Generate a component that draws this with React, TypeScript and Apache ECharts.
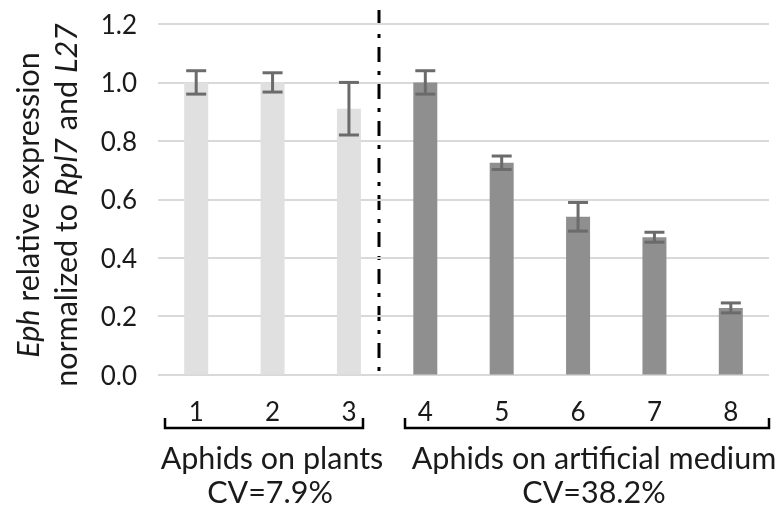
import React, { useEffect, useRef } from "react";
import * as echarts from "echarts";

const categories = ["1", "2", "3", "4", "5", "6", "7", "8"];
const means = [1.0, 1.0, 0.91, 1.0, 0.725, 0.54, 0.47, 0.228];
const errors = [0.04, 0.033, 0.09, 0.04, 0.023, 0.049, 0.017, 0.017];
const groupOf = [0, 0, 0, 1, 1, 1, 1, 1];
const groupColors = ["#e0e0e0", "#8f8f8f"];
const groupNames = ["Aphids on plants", "Aphids on artificial medium"];
const groupCVs = ["CV=7.9%", "CV=38.2%"];
const yTicks = [0, 0.2, 0.4, 0.6, 0.8, 1.0, 1.2];

const FONT = "Lato";
const TXT = "#1a1a1a";

export default function App() {
  const ref = useRef<HTMLDivElement>(null);
  useEffect(() => {
    if (!ref.current) return;
    const chart = echarts.init(ref.current, null, { renderer: "svg" });
    const barData = means.map((v, i) => ({
      value: v,
      itemStyle: { color: groupColors[groupOf[i]] },
    }));
    const errData = means.map((v, i) => [i, v - errors[i], v + errors[i]]);
    const bracket = (x1: number, x2: number) => ({
      type: "polyline",
      shape: {
        points: [
          [x1, 418],
          [x1, 428],
          [x2, 428],
          [x2, 418],
        ],
      },
      style: { stroke: "#000", lineWidth: 2.5, fill: null },
    });
    const txt = (x: number, y: number, text: string) => ({
      type: "text",
      x,
      y,
      style: {
        text,
        fontFamily: FONT,
        fontSize: 30.5,
        fill: TXT,
        align: "center",
        verticalAlign: "middle",
      },
    });
    chart.setOption({
      animation: false,
      grid: { left: 158, right: 15, top: 24, bottom: 135.5 },
      xAxis: {
        type: "category",
        data: categories,
        axisLine: { show: false },
        axisTick: { show: false },
        axisLabel: {
          fontFamily: FONT,
          fontSize: 26,
          color: TXT,
          margin: 23,
        },
      },
      yAxis: {
        type: "value",
        min: yTicks[0],
        max: yTicks[yTicks.length - 1],
        interval: 0.2,
        axisLine: { show: false },
        axisTick: { show: false },
        splitLine: { lineStyle: { color: "#d9d9d9", width: 2 } },
        axisLabel: {
          fontFamily: FONT,
          fontSize: 26,
          color: TXT,
          margin: 21,
          formatter: (v: number) => v.toFixed(1),
        },
      },
      series: [
        {
          type: "bar",
          data: barData,
          barWidth: 24,
        },
        {
          type: "custom",
          data: errData,
          z: 10,
          renderItem: (params: any, api: any) => {
            const x = api.value(0);
            const lo = api.coord([x, api.value(1)]);
            const hi = api.coord([x, api.value(2)]);
            const cap = 10;
            const st = { stroke: "#6b6b6b", lineWidth: 3 };
            return {
              type: "group",
              children: [
                { type: "line", shape: { x1: lo[0], y1: lo[1], x2: hi[0], y2: hi[1] }, style: st },
                { type: "line", shape: { x1: lo[0] - cap, y1: lo[1], x2: lo[0] + cap, y2: lo[1] }, style: st },
                { type: "line", shape: { x1: hi[0] - cap, y1: hi[1], x2: hi[0] + cap, y2: hi[1] }, style: st },
              ],
            };
          },
        },
      ],
      graphic: [
        {
          type: "text",
          x: 46,
          y: 205,
          rotation: Math.PI / 2,
          style: {
            text: "{i|Eph} relative expression\nnormalized to {i|Rpl7} and {i|L27}",
            fontFamily: FONT,
            fontSize: 30.5,
            lineHeight: 38,
            fill: TXT,
            align: "center",
            verticalAlign: "middle",
            rich: {
              i: {
                fontFamily: FONT,
                fontSize: 30.5,
                fontStyle: "italic",
                lineHeight: 38,
                fill: TXT,
              },
            },
          },
        },
        {
          type: "line",
          shape: { x1: 379, y1: 10, x2: 379, y2: 376 },
          style: { stroke: "#000", lineWidth: 3, lineDash: [15, 9, 4, 9] },
        },
        bracket(165, 363),
        bracket(405, 769),
        txt(272, 457, groupNames[0]),
        txt(594, 457, groupNames[1]),
        txt(270, 491, groupCVs[0]),
        txt(594, 491, groupCVs[1]),
      ],
    });
    return () => chart.dispose();
  }, []);
  return (
    <div
      ref={ref}
      style={{ position: "fixed", left: 0, top: 0, width: 784, height: 510 }}
    />
  );
}
